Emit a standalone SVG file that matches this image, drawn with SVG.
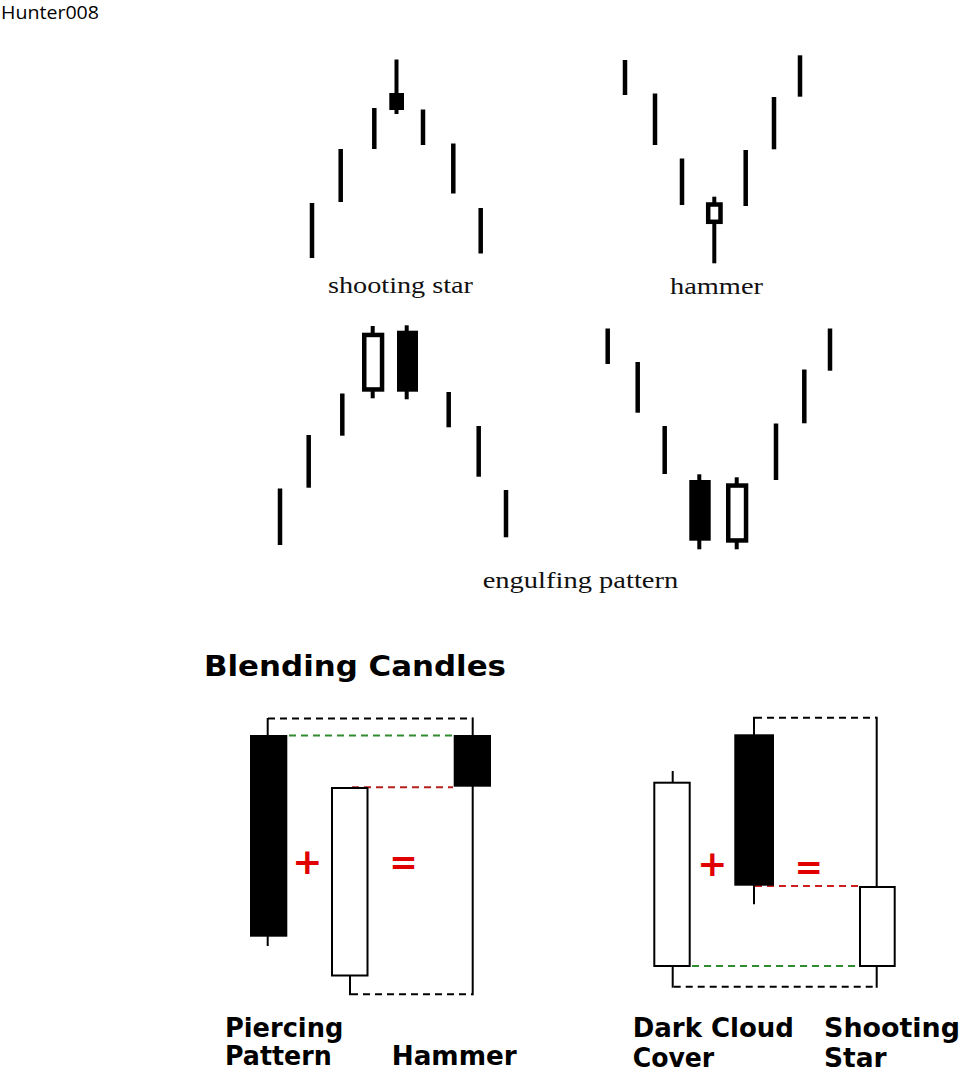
<svg xmlns="http://www.w3.org/2000/svg" width="960" height="1074" viewBox="0 0 960 1074">
<style>
  .bar { stroke: #000; stroke-width: 4.5; fill: none; }
  .wick { stroke: #000; stroke-width: 4; fill: none; }
  .blk { fill: #000; }
  .hol { fill: #fff; stroke: #000; stroke-width: 4.5; }
  .serif { font-family: "Liberation Serif", "DejaVu Serif", serif; font-size: 24px; fill: #111; }
  .bold { font-family: "DejaVu Sans", Verdana, sans-serif; font-weight: bold; fill: #000; }
  .thin { stroke: #000; stroke-width: 2; fill: none; }
  .cand { stroke: #000; stroke-width: 2; }
  .dash { stroke-width: 2; stroke-dasharray: 7 5; fill: none; }
  .op { font-family: "DejaVu Sans", Verdana, sans-serif; font-weight: bold; fill: #e00000; text-anchor: middle; }
</style>
<rect width="960" height="1074" fill="#fff"/>
<text x="1" y="19" font-family="Open Sans, Noto Sans, sans-serif" font-size="19" fill="#000" textLength="98" lengthAdjust="spacingAndGlyphs">Hunter008</text>

<g id="shooting-star-pattern">
  <line class="bar" x1="312" y1="203" x2="312" y2="258"/>
  <line class="bar" x1="340.7" y1="149" x2="340.7" y2="202"/>
  <line class="bar" x1="374.3" y1="108" x2="374.3" y2="149"/>
  <line class="wick" x1="396.5" y1="59.5" x2="396.5" y2="114"/>
  <rect class="blk" x="389.3" y="93" width="14.7" height="17"/>
  <line class="bar" x1="423" y1="109.5" x2="423" y2="145"/>
  <line class="bar" x1="453.3" y1="143.5" x2="453.3" y2="193.5"/>
  <line class="bar" x1="480.7" y1="208" x2="480.7" y2="253.5"/>
  <text class="serif" x="328" y="293" textLength="145" lengthAdjust="spacingAndGlyphs">shooting star</text>
</g>

<g id="hammer-pattern">
  <line class="bar" x1="625" y1="60" x2="625" y2="95"/>
  <line class="bar" x1="655" y1="93.5" x2="655" y2="145"/>
  <line class="bar" x1="682" y1="158.5" x2="682" y2="205"/>
  <line class="wick" x1="714.3" y1="196.7" x2="714.3" y2="263.3"/>
  <rect class="hol" x="708.2" y="204.5" width="12.3" height="17.3" stroke-width="4.3"/>
  <line class="bar" x1="745.7" y1="150" x2="745.7" y2="206"/>
  <line class="bar" x1="774" y1="97" x2="774" y2="149.3"/>
  <line class="bar" x1="800" y1="55.3" x2="800" y2="96.7"/>
  <text class="serif" x="670" y="294" textLength="93" lengthAdjust="spacingAndGlyphs">hammer</text>
</g>

<g id="bearish-engulfing">
  <line class="bar" x1="280" y1="488.5" x2="280" y2="545"/>
  <line class="bar" x1="308.7" y1="435" x2="308.7" y2="487.7"/>
  <line class="bar" x1="342.3" y1="393.5" x2="342.3" y2="435.7"/>
  <line class="wick" x1="372.7" y1="326" x2="372.7" y2="398.3"/>
  <rect class="hol" x="364.25" y="334.95" width="17.8" height="54.5"/>
  <line class="wick" x1="406.7" y1="325.3" x2="406.7" y2="399.3"/>
  <rect class="blk" x="397" y="330.7" width="21" height="61"/>
  <line class="bar" x1="448.7" y1="392" x2="448.7" y2="427.3"/>
  <line class="bar" x1="478.7" y1="426" x2="478.7" y2="476.7"/>
  <line class="bar" x1="506" y1="490" x2="506" y2="537.3"/>
</g>

<g id="bullish-engulfing">
  <line class="bar" x1="607.7" y1="328.5" x2="607.7" y2="364"/>
  <line class="bar" x1="637.7" y1="362" x2="637.7" y2="412.7"/>
  <line class="bar" x1="664.7" y1="426" x2="664.7" y2="474"/>
  <line class="wick" x1="699.3" y1="474.3" x2="699.3" y2="549.3"/>
  <rect class="blk" x="689.3" y="480" width="21.4" height="60.7"/>
  <line class="wick" x1="736.7" y1="477.3" x2="736.7" y2="549.3"/>
  <rect class="hol" x="728.25" y="485.55" width="17.8" height="54.9"/>
  <line class="bar" x1="776" y1="423.5" x2="776" y2="480"/>
  <line class="bar" x1="804.3" y1="369.5" x2="804.3" y2="423.3"/>
  <line class="bar" x1="830" y1="328.5" x2="830" y2="370.7"/>
</g>
<text id="engulfing-label" class="serif" x="482.7" y="588" textLength="195.6" lengthAdjust="spacingAndGlyphs">engulfing pattern</text>

<text id="title" class="bold" x="204" y="676" font-size="29" textLength="302" lengthAdjust="spacingAndGlyphs">Blending Candles</text>

<g id="connectors">
  <line class="dash" stroke="#000" x1="268" y1="718.5" x2="472.7" y2="718.5"/>
  <line class="dash" stroke="#2e8b2e" x1="289" y1="735.5" x2="453" y2="735.5"/>
  <line class="dash" stroke="#b81f1f" x1="352" y1="787.3" x2="453" y2="787.3"/>
  <line class="dash" stroke="#000" x1="351" y1="994.3" x2="472.7" y2="994.3"/>
  <line class="dash" stroke="#000" x1="755" y1="717.7" x2="876.7" y2="717.7"/>
  <line class="dash" stroke="#cc1f1f" x1="755" y1="886" x2="858" y2="886"/>
  <line class="dash" stroke="#2e8b2e" x1="692" y1="966" x2="858" y2="966"/>
  <line class="dash" stroke="#000" x1="673.7" y1="986.7" x2="876.7" y2="986.7"/>
</g>

<g id="piercing-black">
  <line class="thin" x1="267.7" y1="718" x2="267.7" y2="946"/>
  <rect class="blk" x="250" y="735" width="37.3" height="201.7"/>
</g>
<g id="piercing-white">
  <line class="thin" x1="350" y1="975" x2="350" y2="995.3"/>
  <rect class="cand" fill="#fff" x="332" y="788" width="35.5" height="187.5"/>
</g>
<g id="hammer-result">
  <line class="thin" x1="472.7" y1="717.5" x2="472.7" y2="995.3"/>
  <rect class="blk" x="453.7" y="735" width="37.3" height="51.7"/>
</g>
<text id="op-plus-1" class="op" x="307.3" y="874" font-size="36">+</text>
<text id="op-eq-1" class="op" x="403.6" y="873.5" font-size="34">=</text>

<g id="darkcloud-white">
  <line class="thin" x1="672.7" y1="771" x2="672.7" y2="987.7"/>
  <rect class="cand" fill="#fff" x="654.3" y="782.7" width="35.4" height="183.3"/>
</g>
<g id="darkcloud-black">
  <line class="thin" x1="754" y1="716.7" x2="754" y2="904.3"/>
  <rect class="blk" x="734.3" y="734.3" width="39.7" height="151.4"/>
</g>
<g id="shootingstar-result">
  <line class="thin" x1="876.7" y1="716.7" x2="876.7" y2="987.7"/>
  <rect class="cand" fill="#fff" x="860" y="887" width="34.7" height="79"/>
</g>
<text id="op-plus-2" class="op" x="712.3" y="875.7" font-size="36">+</text>
<text id="op-eq-2" class="op" x="808.8" y="879" font-size="34">=</text>

<g id="labels" class="bold" font-size="26">
  <text x="225" y="1036.7" textLength="118.3" lengthAdjust="spacingAndGlyphs">Piercing</text>
  <text x="225" y="1065" textLength="106.7" lengthAdjust="spacingAndGlyphs">Pattern</text>
  <text x="391.7" y="1065" textLength="125" lengthAdjust="spacingAndGlyphs">Hammer</text>
  <text x="632.7" y="1036.7" textLength="161.3" lengthAdjust="spacingAndGlyphs">Dark Cloud</text>
  <text x="632.7" y="1066.7" textLength="81.6" lengthAdjust="spacingAndGlyphs">Cover</text>
  <text x="824" y="1036.7" textLength="136" lengthAdjust="spacingAndGlyphs">Shooting</text>
  <text x="824" y="1066.7" textLength="62.7" lengthAdjust="spacingAndGlyphs">Star</text>
</g>
</svg>
